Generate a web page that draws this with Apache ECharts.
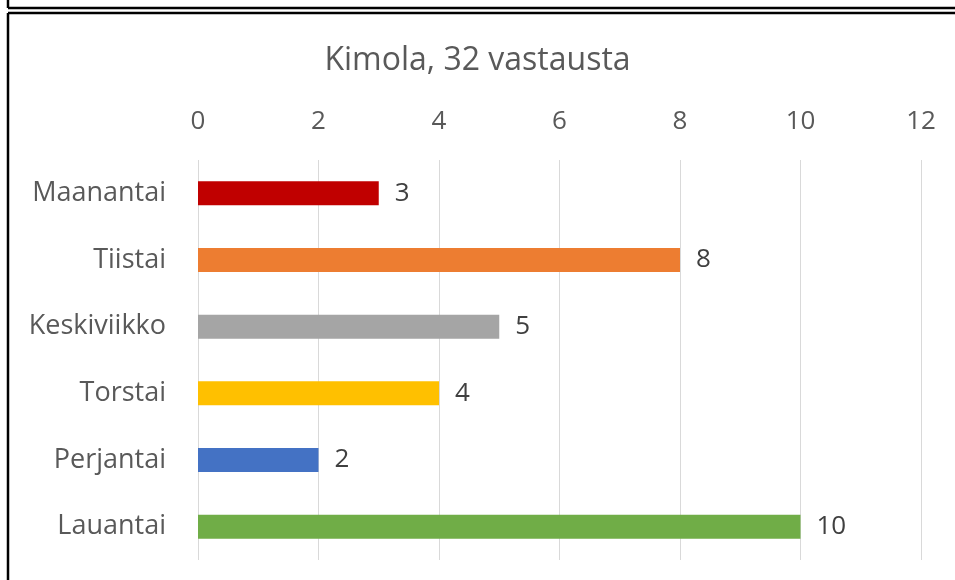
<!DOCTYPE html>
<html>
<head>
<meta charset="UTF-8">
<script src="https://cdn.jsdelivr.net/npm/echarts@6/dist/echarts.min.js"></script>
<style>
  html, body { margin: 0; padding: 0; background: #fff; }
  #main { width: 955px; height: 580px; }
</style>
</head>
<body>
<div id="main"></div>
<script>
// päivät ja vastausten määrät
var days = ['Maanantai', 'Tiistai', 'Keskiviikko', 'Torstai', 'Perjantai', 'Lauantai'];
var counts = [3, 8, 5, 4, 2, 10];
var barColors = ['#C00000', '#ED7D31', '#A5A5A5', '#FFC000', '#4472C4', '#70AD47'];
var xTicks = [0, 2, 4, 6, 8, 10, 12];

var chart = echarts.init(document.getElementById('main'));

var option = {
    backgroundColor: '#fff',
    animation: false,
    textStyle: { fontFamily: 'Open Sans' },
    title: {
        text: 'Kimola, 32 vastausta',
        left: 'center',
        top: 40,
        textStyle: { fontSize: 32, fontWeight: 'normal', color: '#595959', fontFamily: 'Open Sans' }
    },
    grid: { left: 198, right: 34, top: 160, bottom: 20 },
    xAxis: {
        type: 'value',
        position: 'top',
        min: xTicks[0],
        max: xTicks[xTicks.length - 1],
        interval: 2,
        axisLine: { show: false },
        axisTick: { show: false },
        axisLabel: { fontSize: 26, color: '#595959', margin: 25 },
        splitLine: { lineStyle: { color: '#D9D9D9', width: 1 } }
    },
    yAxis: {
        type: 'category',
        data: days,
        inverse: true,
        axisLine: { show: false },
        axisTick: { show: false },
        axisLabel: { fontSize: 27, color: '#595959', margin: 32, padding: [5, 0, 0, 0] }
    },
    series: [{
        type: 'bar',
        barWidth: '36%',
        data: counts.map(function (v, i) {
            return { value: v, itemStyle: { color: barColors[i] } };
        }),
        label: {
            show: true,
            position: 'right',
            distance: 16,
            fontSize: 26,
            color: '#404040',
            padding: [3, 0, 0, 0]
        }
    }],
    graphic: [
        // kehykset
        { type: 'line', shape: { x1: 8, y1: 0, x2: 8, y2: 8 }, style: { stroke: '#000', lineWidth: 2.5 } },
        { type: 'line', shape: { x1: 8, y1: 8, x2: 955, y2: 8 }, style: { stroke: '#000', lineWidth: 2.5 } },
        { type: 'line', shape: { x1: 8, y1: 13, x2: 955, y2: 13 }, style: { stroke: '#000', lineWidth: 2.5 } },
        { type: 'line', shape: { x1: 8, y1: 13, x2: 8, y2: 580 }, style: { stroke: '#000', lineWidth: 2.5 } }
    ]
};

chart.setOption(option);
</script>
</body>
</html>
